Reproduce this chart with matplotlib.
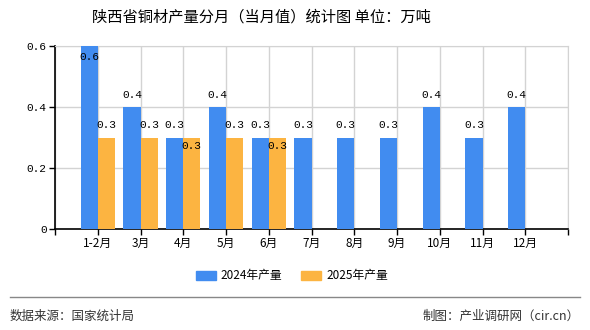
import matplotlib
matplotlib.use("Agg")
import matplotlib.pyplot as plt
from matplotlib.lines import Line2D
from matplotlib.patches import Patch
import numpy as np

plt.rcParams['font.family'] = ['Noto Sans CJK SC', 'DejaVu Sans']

# data
months = ['1-2月', '3月', '4月', '5月', '6月', '7月', '8月', '9月', '10月', '11月', '12月']
prod_2024 = [0.6, 0.4, 0.3, 0.4, 0.3, 0.3, 0.3, 0.3, 0.4, 0.3, 0.4]
prod_2025 = [0.3, 0.3, 0.3, 0.3, 0.3]
series_names = ['2024年产量', '2025年产量']

blue = '#418CF0'
orange = '#FCB441'
grid_col = '#d3d3d3'
num_font = 'Liberation Mono'

fig = plt.figure(figsize=(5.9, 3.3), dpi=100)
ax = fig.add_axes([55 / 590, 1 - 229 / 330, 513 / 590, 183 / 330])

x = np.arange(len(months))
w = 0.4
ax.bar(x[:len(prod_2024)] - w / 2, prod_2024, width=w, color=blue, zorder=3)
ax.bar(x[:len(prod_2025)] + w / 2, prod_2025, width=w, color=orange, zorder=3)

ymax = 0.6
ax.set_xlim(-1, len(months))
ax.set_ylim(0, ymax)

# value labels: above the bar, or tucked inside when it would clash
for i, v in enumerate(prod_2024):
    if v >= ymax:
        ax.annotate(f'{v:.1f}', (i - w / 2, v), xytext=(0, -8), textcoords='offset points',
                    ha='center', va='center', fontsize=8, family=num_font, zorder=4)
    else:
        ax.annotate(f'{v:.1f}', (i - w / 2, v), xytext=(0, 9), textcoords='offset points',
                    ha='center', va='center', fontsize=8, family=num_font, zorder=4)
for i, v in enumerate(prod_2025):
    dy = -6 if v == prod_2024[i] else 9
    ax.annotate(f'{v:.1f}', (i + w / 2, v), xytext=(0, dy), textcoords='offset points',
                ha='center', va='center', fontsize=8, family=num_font, zorder=4)

# axes styling
ax.set_xticks(np.arange(-1, len(months) + 1))
ax.set_xticklabels([''] + months + [''], fontsize=8.5)
ax.set_yticks([0, 0.2, 0.4, 0.6])
ax.set_yticklabels(['0', '0.2', '0.4', '0.6'], family=num_font, fontsize=8)
ax.tick_params(axis='both', length=4, width=1, color='black', pad=2)
ax.grid(True, color=grid_col, linewidth=1, zorder=0)
for s in ['top', 'right']:
    ax.spines[s].set_color(grid_col)
for s in ['left', 'bottom']:
    ax.spines[s].set_color('black')
    ax.spines[s].set_linewidth(1.2)

fig.text(261 / 590, 1 - 17 / 330, '陕西省铜材产量分月（当月值）统计图 单位：万吨',
         ha='center', va='center', fontsize=11)

handles = [Patch(color=blue), Patch(color=orange)]
fig.legend(handles, series_names, loc='center', bbox_to_anchor=(292 / 590, 1 - 276 / 330),
           ncol=2, frameon=False, fontsize=8.5, handlelength=1.7, handleheight=0.8,
           handletextpad=0.4, columnspacing=1.6)

fig.add_artist(Line2D([10 / 590, 580 / 590], [1 - 297 / 330] * 2, color='#888888', linewidth=1))
fig.text(10 / 590, 1 - 316 / 330, '数据来源：国家统计局', ha='left', va='center',
         fontsize=9, color='#333333')
fig.text(580 / 590, 1 - 316 / 330, '制图：产业调研网（cir.cn）', ha='right', va='center',
         fontsize=9, color='#333333')

fig.savefig('out.png', dpi=100)
